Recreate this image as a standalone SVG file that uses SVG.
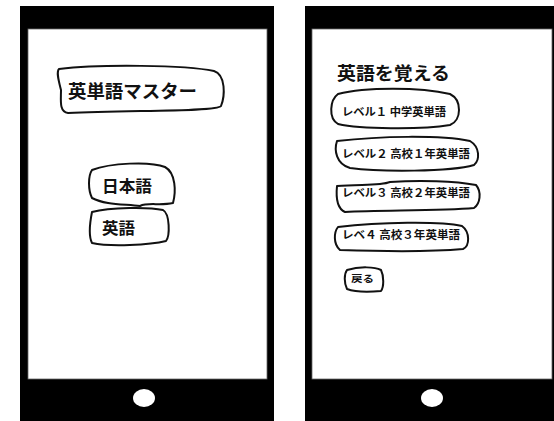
<svg xmlns="http://www.w3.org/2000/svg" width="554" height="421" viewBox="0 0 554 421">
<style>
.frame{fill:#000}
.screen{fill:#fff;stroke:#666;stroke-width:0.8}
.home{fill:#fff}
.bub{fill:#fff;stroke:#111;stroke-width:2;stroke-linejoin:round}
.t{font-family:"Noto Sans CJK JP","Noto Sans CJK SC",sans-serif;font-weight:bold;fill:#111}
</style>
<g id="phone-left">
<rect class="frame" x="20" y="6" width="254" height="415"/>
<rect class="screen" x="28" y="29" width="239" height="350"/>
<ellipse class="home" cx="144" cy="398" rx="11" ry="9"/>
</g>
<g id="phone-right">
<rect class="frame" x="305" y="6" width="249" height="415"/>
<rect class="screen" x="312" y="29" width="240" height="350"/>
<ellipse class="home" cx="432" cy="398" rx="11" ry="9"/>
</g>
<g id="title-left">
<path class="bub" d="M59,69 C100,64 185,65 214,71 C226,75 225,96 221,106 C217,112 130,110 68,113 C59,112 61,100 61,90 C59,82 56,72 59,69 Z"/>
<text class="t" x="68" y="98" font-size="18" textLength="129" lengthAdjust="spacingAndGlyphs">英単語マスター</text>
</g>
<g id="btn-japanese">
<path class="bub" d="M92,170 C110,163 150,161 165,167 C176,173 176,192 173,203 C160,206 148,202 140,206 C125,204 105,205 92,198 C88,190 88,176 92,170 Z"/>
<text class="t" x="102" y="192" font-size="16" textLength="50" lengthAdjust="spacingAndGlyphs">日本語</text>
</g>
<g id="btn-english">
<path class="bub" d="M92,212 C110,207 150,207 163,210 C170,214 170,236 166,241 C150,245 110,247 92,243 C88,235 90,222 92,212 Z"/>
<text class="t" x="102" y="234" font-size="16" textLength="33" lengthAdjust="spacingAndGlyphs">英語</text>
</g>
<g id="title-right">
<text class="t" x="337" y="80" font-size="18" textLength="113" lengthAdjust="spacingAndGlyphs">英語を覚える</text>
</g>
<g id="level1">
<path class="bub" d="M338,94 C365,87 420,87 450,94 C462,100 462,120 450,125 C420,130 360,129 338,124 C328,118 330,100 338,94 Z"/>
<text class="t" x="342" y="116" font-size="11" textLength="104" lengthAdjust="spacingAndGlyphs">レベル１ 中学英単語</text>
</g>
<g id="level2">
<path class="bub" d="M337,141 C380,136 440,135 470,141 C480,147 480,160 474,165 C450,172 380,172 350,168 C336,164 334,150 337,141 Z"/>
<text class="t" x="342" y="158" font-size="11" textLength="128" lengthAdjust="spacingAndGlyphs">レベル２ 高校１年英単語</text>
</g>
<g id="level3">
<path class="bub" d="M337,186 C360,184 380,186 390,182 C420,180 455,181 476,185 C482,192 480,204 474,208 C440,211 380,210 345,212 C336,208 336,196 337,186 Z"/>
<text class="t" x="342" y="197" font-size="11" textLength="128" lengthAdjust="spacingAndGlyphs">レベル３ 高校２年英単語</text>
</g>
<g id="level4">
<path class="bub" d="M338,227 C380,222 440,221 462,226 C470,232 470,246 463,249 C430,252 370,251 340,250 C333,244 334,232 338,227 Z"/>
<text class="t" x="342" y="239" font-size="11" textLength="118" lengthAdjust="spacingAndGlyphs">レベ４ 高校３年英単語</text>
</g>
<g id="btn-back">
<path class="bub" d="M347,270 C360,266 375,267 381,270 C384,276 384,287 381,291 C370,292 355,292 347,289 C344,283 344,274 347,270 Z"/>
<text class="t" x="351" y="282" font-size="9" textLength="23" lengthAdjust="spacingAndGlyphs">戻る</text>
</g>
<g id="connectors"/>
</svg>
